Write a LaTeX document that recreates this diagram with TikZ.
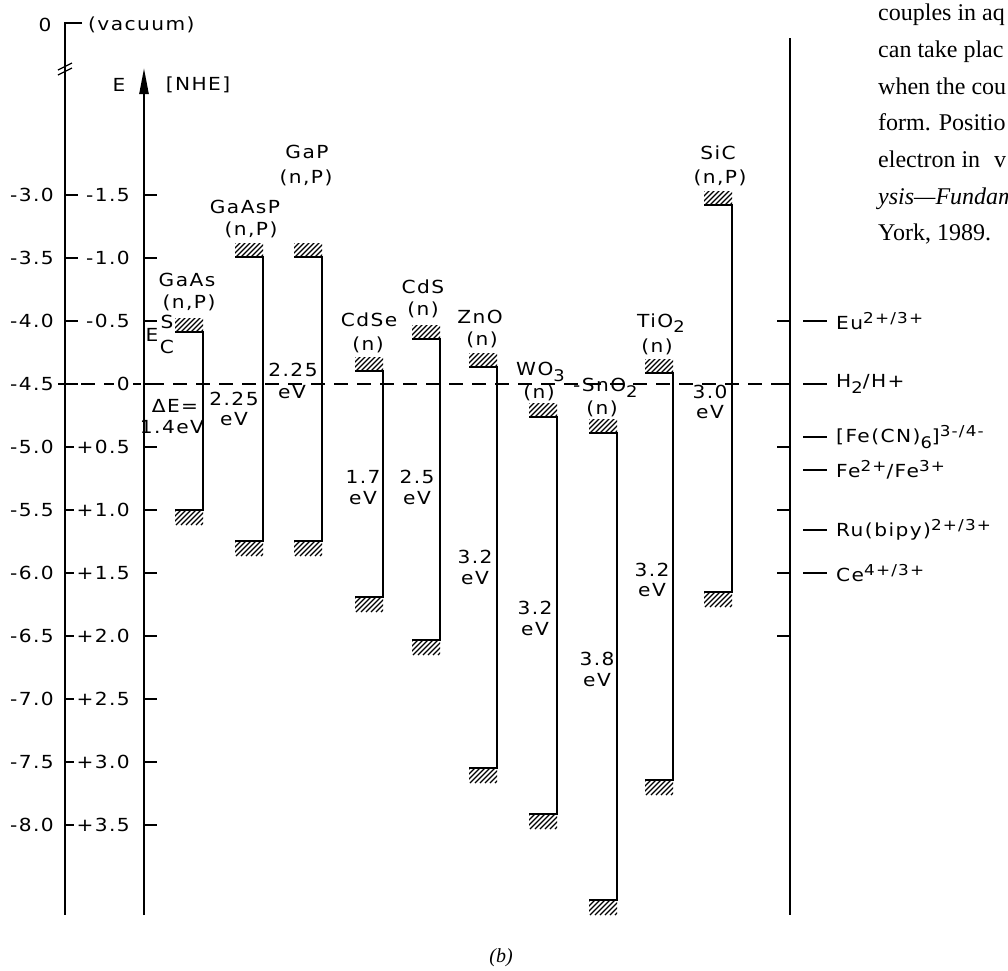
\documentclass[tikz,border=0pt]{standalone}
\usepackage{fontspec}
\setmainfont{Liberation Serif}
\newfontfamily\lab[FakeStretch=1.12,LetterSpace=8]{DejaVu Sans}
\usetikzlibrary{arrows.meta}
\newcommand\hsup[1]{\raisebox{0.6ex}{\fontsize{15}{15}\selectfont #1}}
\newcommand\hsub[1]{\raisebox{-0.55ex}{\fontsize{16}{16}\selectfont #1}}
\newcommand\hatchbox[4]{%
  \begin{scope}
    \clip (#1,#2) rectangle (#3,#4);
    \foreach \k in {-24,-19,...,36}{\draw[hatchline] ({#1+\k},#4) -- ++(24,-24);}
  \end{scope}}
\newcommand\band[3]{%
  \draw[bandline] ({#1-28},#2) -- (#1,#2) -- (#1,#3) -- ({#1-28},#3);
  \hatchbox{#1-28}{#2-14}{#1}{#2}
  \hatchbox{#1-28}{#3}{#1}{#3+15}}
\begin{document}
\begin{tikzpicture}[x=1pt,y=-1pt,
  lab/.style={font=\lab\fontsize{18}{21}\selectfont, inner sep=0pt},
  txt/.style={font=\fontsize{24}{28}\selectfont, inner sep=0pt, anchor=base west},
  axisline/.style={line width=2.4pt},
  bandline/.style={line width=2.4pt, line join=miter},
  tickline/.style={line width=1.6pt},
  hatchline/.style={line width=1.3pt},
  zeroline/.style={dash pattern=on 14pt off 9pt, line width=1.4pt},
  redox/.style={line width=1.3pt}]
\useasboundingbox (0,0) rectangle (1008,970);
\fill[white] (0,0) rectangle (1008,970);
\clip (0,0) rectangle (1008,970);

% zero (H2/H+) level
\coordinate (z0) at (58,384);
\coordinate (z1) at (790,384);
\draw[zeroline] (z0) -- (z1);

% axes
\coordinate (vtop) at (65,23);
\coordinate (vtick) at (82,23);
\coordinate (vbot) at (65,915);
\draw[axisline] (vtick) -- (vtop) -- (vbot);
\draw[line width=1.3pt] (58,70) -- (72,63);
\draw[line width=1.3pt] (58,75) -- (72,68);
\coordinate (ebot) at (144,915);
\coordinate (etop) at (144,68);
\draw[axisline, -{Triangle[length=26pt,width=9pt]}] (ebot) -- (etop);
\coordinate (rtop) at (790,38);
\coordinate (rbot) at (790,915);
\draw[axisline] (rtop) -- (rbot);

\node[lab] (zero) at (45,25) {0};
\node[lab,anchor=west] (vac) at (88,25) {(vacuum)};
\node[lab] (E) at (119,85) {E};
\node[lab] (nhe) at (198,85) {[NHE]};

\foreach \a/\b [count=\i from 0] in {-3.0/-1.5,-3.5/-1.0,-4.0/-0.5,-4.5/0,-5.0/+0.5,-5.5/+1.0,-6.0/+1.5,-6.5/+2.0,-7.0/+2.5,-7.5/+3.0,-8.0/+3.5}{
  \pgfmathsetmacro\yy{195+63*\i}
  \draw[tickline] (65,\yy) -- (78,\yy);
  \draw[tickline] (144,\yy) -- (157,\yy);
  \node[lab,anchor=east] (va\i) at (54,\yy) {\a};
  \node[lab,anchor=east,fill=white,inner xsep=3pt] (nh\i) at (133,\yy) {\b};
}
\foreach \i in {2,...,7}{
  \pgfmathsetmacro\yy{195+63*\i}
  \draw[tickline] (777,\yy) -- (790,\yy);
}

% bands
\band{203}{332}{510}
\band{263}{257}{541}
\band{322}{257}{541}
\band{383}{371}{597}
\band{440}{339}{640}
\band{497}{367}{768}
\band{557}{417}{814}
\band{617}{433}{900}
\band{673}{373}{780}
\band{732}{205}{592}

% material labels
\node[lab] (gaas) at (187,280) {GaAs};
\node[lab] (gaasnp) at (189,303) {(n,P)};
\node[lab] (gaasp) at (245,207) {GaAsP};
\node[lab] (gaaspnp) at (251,230) {(n,P)};
\node[lab] (gap) at (307,152) {GaP};
\node[lab] (gapnp) at (306,178) {(n,P)};
\node[lab] (cdse) at (369,320) {CdSe};
\node[lab] (cdsen) at (368,345) {(n)};
\node[lab] (cds) at (423,287) {CdS};
\node[lab] (cdsn) at (423,310) {(n)};
\node[lab] (zno) at (480,317) {ZnO};
\node[lab] (znon) at (482,340) {(n)};
\node[lab,anchor=west] (wo) at (516,372) {WO\hsub{3}};
\node[lab] (won) at (539,393) {(n)};
\node[lab,anchor=west] (sno) at (573,388) {-SnO\hsub{2}};
\node[lab] (snon) at (602,409) {(n)};
\node[lab,anchor=west] (tio) at (637,323) {TiO\hsub{2}};
\node[lab] (tion) at (657,347) {(n)};
\node[lab] (sic) at (718,153) {SiC};
\node[lab] (sicnp) at (720,178) {(n,P)};

% E_S / E_C
\node[lab] (es) at (152,335) {E};
\node[lab] (ess) at (167,322) {S};
\node[lab] (esc) at (167,347) {C};

% gaps
\node[lab] (g1a) at (175,406) {ΔE=};
\node[lab] (g1b) at (172,427) {1.4eV};
\node[lab] (g2a) at (234,399) {2.25};
\node[lab] (g2b) at (234,419) {eV};
\node[lab] (g3a) at (293,370) {2.25};
\node[lab] (g3b) at (292,392) {eV};
\node[lab] (g4a) at (363,477) {1.7};
\node[lab] (g4b) at (363,498) {eV};
\node[lab] (g5a) at (417,477) {2.5};
\node[lab] (g5b) at (417,498) {eV};
\node[lab] (g6a) at (475,557) {3.2};
\node[lab] (g6b) at (475,578) {eV};
\node[lab] (g7a) at (535,608) {3.2};
\node[lab] (g7b) at (535,629) {eV};
\node[lab] (g8a) at (597,659) {3.8};
\node[lab] (g8b) at (597,680) {eV};
\node[lab] (g9a) at (652,570) {3.2};
\node[lab] (g9b) at (652,590) {eV};
\node[lab] (g10a) at (710,392) {3.0};
\node[lab] (g10b) at (710,412) {eV};

% redox couples
\foreach \yy/\t [count=\j] in {321/{Eu\hsup{2+/3+}},384/{H\hsub{2}/H+},437/{[Fe(CN)\hsub{6}]\hsup{3-/4-}},470/{Fe\hsup{2+}/Fe\hsup{3+}},530/{Ru(bipy)\hsup{2+/3+}},573/{Ce\hsup{4+/3+}}}{
  \draw[redox] (803,\yy) -- (827,\yy);
  \node[lab,anchor=west] (rx\j) at (836,\yy) {\t};
}

% paragraph fragment
\node[txt] (p1) at (878,20) {couples in aq};
\node[txt] (p2) at (878,57) {can take plac};
\node[txt] (p3) at (878,94) {when the cou};
\node[txt] (p4) at (878,130) {form. Positio};
\node[txt] (p5) at (878,167) {electron in};
\node[txt] (p5b) at (994,167) {v};
\node[txt] (p6) at (878,204) {\itshape ysis---Fundam};
\node[txt] (p7) at (878,240) {York, 1989.};

\node[font=\itshape\fontsize{20}{22}\selectfont] (cap) at (501,958) {(b)};
\end{tikzpicture}
\end{document}
